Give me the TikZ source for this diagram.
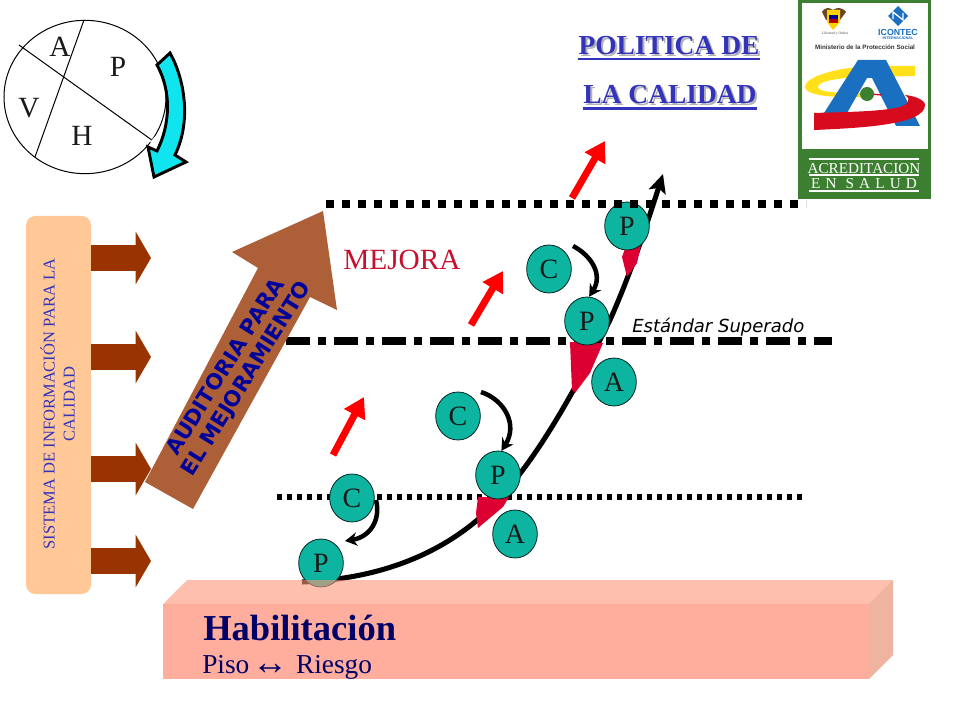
\documentclass[tikz,border=0pt]{standalone}
\usepackage{fontspec}
\setmainfont{Liberation Serif}
\newfontfamily\djv{DejaVu Sans}
\newfontfamily\lsans{Liberation Sans}
\usetikzlibrary{arrows.meta,shapes.geometric}
\definecolor{teal1}{HTML}{0DB5A0}
\definecolor{crim}{HTML}{DC0032}
\definecolor{bigbrown}{HTML}{AD6038}
\definecolor{smallbrown}{HTML}{993300}
\definecolor{sysfill}{HTML}{FFC896}
\definecolor{titleblue}{HTML}{3333BB}
\definecolor{navy1}{HTML}{000066}
\definecolor{logogreen}{HTML}{3C7F30}
\definecolor{logoblue}{HTML}{1A6FC0}
\definecolor{logored}{HTML}{D80A1E}
\definecolor{logoyellow}{HTML}{FFE01A}
\definecolor{cyanfill}{HTML}{10E4EE}
\definecolor{auditblue}{HTML}{00009A}
\definecolor{mejred}{HTML}{C8102E}
\tikzset{
  ball/.style={ellipse,draw=black!80!teal1,line width=.6pt,fill=teal1,minimum width=33.5pt,minimum height=36pt,inner sep=0pt,font=\fontsize{21}{21}\selectfont,text=black!90},
  lett/.style={inner sep=0pt,font=\fontsize{22}{22}\selectfont,text=black!90},
  redarrow/.style={draw=red,line width=5.2pt,-{Triangle[length=15pt,width=17pt]}},
  sysarrow/.style={draw=smallbrown,line width=19.5pt,-{Triangle[length=11.5pt,width=39pt]}},
  curl/.style={draw=black,line width=3.4pt,-{Stealth[length=9pt,width=10pt]}},
  blob/.style={fill=crim,draw=none},
  ttl/.style={inner sep=0pt,anchor=base,font=\fontsize{20.6}{21}\selectfont\bfseries},
  audit/.style={inner sep=0pt,rotate=58,text=auditblue,font=\djv\fontsize{16}{17}\selectfont\bfseries},
  logot/.style={inner sep=0pt,text=white,font=\fontsize{11.4}{12}\selectfont},
}
\begin{document}
\begin{tikzpicture}[x=.75pt,y=-.75pt]
\useasboundingbox (0,0) rectangle (960,720);
% PDCA wheel
\node[ellipse,draw,line width=.75pt,minimum width=121.5pt,minimum height=115pt,inner sep=0pt] (wheel) at (85,97) {};
\coordinate (w1) at (84,20); \coordinate (w2) at (35,157);
\coordinate (w3) at (19,45); \coordinate (w4) at (156,143);
\draw[line width=.75pt] (w1)--(w2);
\draw[line width=.75pt] (w3)--(w4);
\node[lett] (la) at (60,47) {A};
\node[lett] (lp) at (118,67) {P};
\node[lett] (lv) at (29,108) {V};
\node[lett] (lh) at (82,136) {H};
\fill[white] (163,128) -- (170,140) -- (160,150) -- (150,142) -- cycle;
\draw[fill=cyanfill,line width=2.2pt,line join=miter] (157,65) -- (170,53) .. controls (184,78) and (192,120) .. (175,155) -- (186,162) -- (154,177) -- (148,147) -- (157,151) .. controls (170,125) and (172,92) .. (157,65) -- cycle;
% titles
\node[ttl,text=black!30] at (671,57) {POLITICA DE};
\node[ttl,text=black!30] at (672,106) {LA CALIDAD};
\node[ttl,text=titleblue] (t1) at (669,55) {POLITICA DE};
\node[ttl,text=titleblue] (t2) at (670,104) {LA CALIDAD};
\draw[titleblue,line width=2pt] ([yshift=-3pt]t1.base west) -- ([yshift=-3pt]t1.base east);
\draw[titleblue,line width=2pt] ([yshift=-3.5pt]t2.base west) -- ([yshift=-3.5pt]t2.base east);
% logo
\fill[logogreen] (798,0) rectangle (931,199);
\fill[white] (802,3) rectangle (928,149);
\fill[logoyellow] (915,66) -- (872,66) .. controls (830,68) and (805,78) .. (805,87) .. controls (805,95) and (830,98) .. (862,97) -- (860,93) .. controls (835,93) and (818,92) .. (818,87) .. controls (818,81) and (840,77) .. (872,77) -- (915,76) -- cycle;
\fill[logoblue] (858,60) -- (886,60) -- (920,126) -- (896,126) -- (872,78) -- (867,78) -- (847,113) -- (824,113) -- cycle;
\fill[logored] (814,113) -- (814,130) .. controls (860,128) and (925,125) .. (925,105) .. controls (925,100) and (915,96) .. (905,95) .. controls (912,100) and (908,104) .. (900,107) .. controls (880,112) and (840,112) .. (814,113) -- cycle;
\draw[logored,line width=1pt] (870,94) -- (882,95);
\fill[logogreen] (867,94) circle[radius=7];
\fill[logoblue] (898,6) -- (908,16) -- (898,26) -- (888,16) -- cycle;
\draw[white,line width=1pt] (893,19) -- (893,12) -- (903,20) -- (903,13);
\fill[black!45!brown] (822,12) .. controls (826,6) and (830,8) .. (833,10) .. controls (836,8) and (841,6) .. (846,12) -- (840,20) -- (826,20) -- cycle;
\fill[yellow!70!orange] (827,10) -- (840,10) -- (840,22) -- (833,30) -- (827,22) -- cycle;
\fill[blue!60!black] (829,15) rectangle (838,19);
\fill[red!70!black] (829,19) rectangle (838,23);
\node[inner sep=0pt,text=black!70,font=\fontsize{2.8}{3}\selectfont] (lib) at (835,34) {Libertad y Orden};
\node[inner sep=0pt,text=logoblue,font=\lsans\fontsize{6.6}{7}\selectfont\bfseries] (ic) at (898,32) {ICONTEC};
\node[inner sep=0pt,text=logoblue,font=\lsans\fontsize{2.8}{3}\selectfont\bfseries] (in) at (898,38) {INTERNACIONAL};
\node[inner sep=0pt,text=black!80,font=\lsans\fontsize{4.7}{5}\selectfont\bfseries] (min) at (865,47) {Ministerio de la Protección Social};
\draw[white,line width=.8pt] (809,159)--(919,159);
\draw[white,line width=.8pt] (809,175)--(919,175);
\draw[white,line width=.8pt] (809,191)--(919,191);
\node[logot] (ac) at (864,168.5) {ACREDITACION};
\node[logot] (es) at (864,184) {\addfontfeatures{LetterSpace=34}EN SALUD};
% guide lines
\coordinate (g1a) at (326,204); \coordinate (g1b) at (806,204);
\coordinate (g2a) at (286,341); \coordinate (g2b) at (832,341);
\coordinate (g3a) at (277,497); \coordinate (g3b) at (802,497);
\draw[line width=3.8pt,dash pattern=on 3.9pt off 3.6pt] (g3a)--(g3b);
\draw[line width=5.4pt,dash pattern=on 18pt off 6pt on 6pt off 6pt] (g2a)--(g2b);
% system box
\node[draw=none,fill=sysfill,rounded corners=7pt,minimum width=48.75pt,minimum height=283.5pt,inner sep=0pt] (sys) at (58.5,405) {};
\node[inner sep=0pt,rotate=90,align=center,text=titleblue,font=\fontsize{12.4}{15}\selectfont] (systxt) at (57.5,404) {SISTEMA DE INFORMACIÓN PARA LA\\CALIDAD};
\coordinate (s1) at (151,258); \coordinate (s2) at (151,357); \coordinate (s3) at (151,469); \coordinate (s4) at (151,561);
\draw[sysarrow] (sys.east |- s1) -- (s1);
\draw[sysarrow] (sys.east |- s2) -- (s2);
\draw[sysarrow] (sys.east |- s3) -- (s3);
\draw[sysarrow] (sys.east |- s4) -- (s4);
% big arrow
\fill[bigbrown] (323,211) -- (232,252) -- (258,268) -- (145,482) -- (193,509) -- (310,297) -- (337,310) -- cycle;
\node[audit] (au1) at (225,366) {AUDITORIA PARA};
\node[audit] (au2) at (247,379) {EL MEJORAMIENTO};
\node[inner sep=0pt,anchor=base west,text=mejred,font=\fontsize{22}{22}\selectfont] (mej) at (343,270) {MEJORA};
\node[inner sep=0pt,anchor=base west,font=\djv\fontsize{13.5}{14}\selectfont\itshape] (std) at (632,332) {Estándar Superado};
% red arrows
\coordinate (r1a) at (333,455); \coordinate (r1b) at (364,397);
\coordinate (r2a) at (471,325); \coordinate (r2b) at (503,271);
\coordinate (r3a) at (572,198); \coordinate (r3b) at (605,141);
\draw[redarrow] (r1a)--(r1b);
\draw[redarrow] (r2a)--(r2b);
\draw[redarrow] (r3a)--(r3b);
% main curve
\coordinate (cs) at (302,582); \coordinate (ce) at (663,174);
\draw[line width=3.8pt,-{Stealth[length=14pt,width=13pt,inset=3pt]}] (cs) .. controls (400,578) and (470,540) .. (515,480) .. controls (555,430) and (590,360) .. (610,320) .. controls (630,275) and (645,230) .. (ce);
% blobs
\fill[blob] (626,246) -- (641,245) -- (637,263) -- (627,277) -- (622,257) -- cycle;
\fill[blob] (570,342) -- (603,343) -- (590,373) -- (575,393) -- (572,390) -- cycle;
\fill[blob] (478,497) -- (509,497) -- (503,507) -- (478,528) -- (476,513) -- cycle;
% balls
\node[ball] (P4) at (627,226) {P};
\node[ball] (C3) at (549,269) {C};
\node[ball] (P3) at (587,321) {P};
\node[ball] (A2) at (614,382) {A};
\node[ball] (C2) at (458,416) {C};
\node[ball] (P2) at (498,475) {P};
\node[ball] (C1) at (352,498) {C};
\node[ball] (A1) at (515,534) {A};
\node[ball] (P1) at (321,563) {P};
% top dotted line
\draw[line width=6pt,dash pattern=on 6pt off 6pt] (g1a)--(g1b);
% curls
\draw[curl] ([shift={(24,-23)}]C3.center) .. controls (592,256) and (603,275) .. (P3.85);
\draw[curl] ([shift={(23,-24)}]C2.center) .. controls (505,400) and (518,425) .. (P2.82);
\draw[curl] ([shift={(24,2)}]C1.center) .. controls (381,520) and (370,537) .. ([shift={(24,-22)}]P1.center);
% habilitacion block
\fill[opacity=.6,fill={rgb,255:red,255;green,148;blue,120}] (163,604) -- (187,580) -- (893,580) -- (869,604) -- cycle;
\fill[opacity=.6,fill={rgb,255:red,255;green,118;blue,92}] (163,604) rectangle (869,679);
\fill[opacity=.6,fill={rgb,255:red,227;green,130;blue,97}] (869,604) -- (893,580) -- (893,655) -- (869,679) -- cycle;
\node[inner sep=0pt,anchor=base west,text=navy1,font=\fontsize{27.4}{28}\selectfont\bfseries] (hab) at (203,640) {Habilitación};
\node[inner sep=0pt,anchor=base west,text=navy1,font=\fontsize{20.5}{20}\selectfont] (piso) at (202,673) {Piso\hspace{2pt}{\fontsize{27}{20}\selectfont\raisebox{-1pt}{↔}}\hspace{6pt}Riesgo};
\end{tikzpicture}
\end{document}
